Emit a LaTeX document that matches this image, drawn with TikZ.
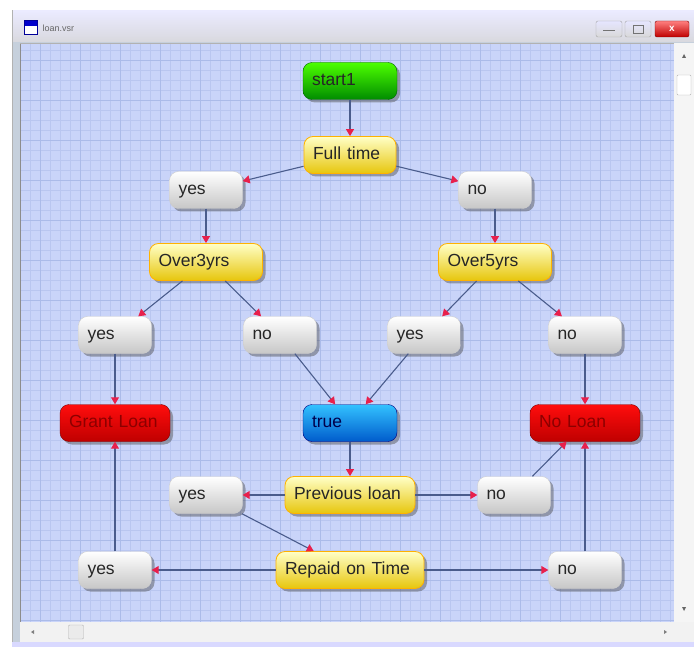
\documentclass[tikz,border=0pt]{standalone}
\usepackage{fontspec}
\setmainfont{Liberation Sans}
\usetikzlibrary{arrows.meta,shadows}
\definecolor{canvas}{HTML}{C9D4F9}
\definecolor{gridminor}{HTML}{B9C6F0}
\definecolor{gridmajor}{HTML}{ABBBE9}
\definecolor{linec}{HTML}{4A5C8C}
\definecolor{arrowc}{HTML}{E8204C}
\definecolor{frame}{HTML}{C6D0DC}
\begin{document}
\begin{tikzpicture}[x=1pt,y=-1pt,
  box/.style={rounded corners=9pt, minimum height=37pt, inner xsep=9pt, inner ysep=0pt, align=left,
    text height=13pt, text depth=4pt,
    font=\fontsize{17.5}{20}\selectfont, text=black!85,
    drop shadow={shadow xshift=3pt, shadow yshift=-3pt, opacity=0.45, fill=black!70}},
  graybox/.style={box, top color=white, bottom color=black!22, draw=black!20, text width=55pt},
  yellowbox/.style={box, top color=yellow!22, bottom color=orange!30!yellow!90!black!95, draw=orange!60!yellow, line width=0.8pt},
  greenbox/.style={box, top color=green!60!lime, bottom color=green!55!black, draw=green!40!black, text width=76pt},
  bluebox/.style={box, top color=cyan!70!blue!80, bottom color=blue!55!cyan!80!black, draw=blue!50!black, text width=76pt, text=blue!30!black},
  redbox/.style={box, top color=red!95, bottom color=red!75!black, draw=red!50!black, text width=92pt, text=red!55!black},
  arr/.style={draw=linec, line width=1.1pt, -{Triangle[length=7pt,width=8pt,color=arrowc]}},
  btn/.style={draw=black!35, rounded corners=2pt, top color=white!90!blue, bottom color=black!15}
]
\useasboundingbox (0,0) rectangle (694,647);
\fill[white] (0,0) rectangle (694,647);
% window frame
\fill[frame] (12,10) rectangle (694,647);
\draw[black!30] (12,647) -- (12,10) -- (694,10);
\shade[top color=white!92!blue, bottom color=blue!8!gray!28] (13,11) rectangle (694,42);
% icon
\fill[white] (24,20) rectangle (37,34);
\fill[blue!80!black] (24,20) rectangle (37,26);
\draw[blue!60!black] (24,20) rectangle (37,34);
\node[anchor=west, font=\fontsize{9}{10}\selectfont, text=black!60] (title) at (39,28) {loan.vsr};
% buttons
\node[btn, minimum width=26pt, minimum height=16pt] (bmin) at (609,29) {};
\draw[black!55, line width=1pt] (603,31) -- (615,31);
\node[btn, minimum width=26pt, minimum height=16pt] (bmax) at (638,29) {};
\draw[black!55] (633,25) rectangle (643,33);
\node[draw=red!50!black, rounded corners=2pt, top color=red!50, bottom color=red!75!black, minimum width=34pt, minimum height=16pt] (bclose) at (672,29) {};
\node[font=\fontsize{10}{10}\selectfont\bfseries, text=white] (bx) at (672,29) {x};
% canvas
\fill[canvas] (20,43) rectangle (674,622);
\foreach \x in {30,40,...,670} \draw[gridminor, line width=0.5pt] (\x,43) -- (\x,622);
\foreach \y in {50,60,...,620} \draw[gridminor, line width=0.5pt] (20,\y) -- (674,\y);
\foreach \x in {40,80,...,670} \draw[gridmajor, line width=0.6pt] (\x,43) -- (\x,622);
\foreach \y in {60,100,...,620} \draw[gridmajor, line width=0.6pt] (20,\y) -- (674,\y);
\draw[black!45, line width=1pt] (20,43) -- (20,622);
\draw[black!30] (20,43) -- (674,43);
% scrollbars
\fill[black!4] (674,43) rectangle (694,622);
\fill[black!5] (20,622) rectangle (694,642);
\fill[blue!15!white] (12,642) rectangle (694,647);
\node[draw=black!30, fill=white, rounded corners=1pt, minimum width=14pt, minimum height=20pt, inner sep=0pt] (vthumb) at (684,85) {};
\node[draw=black!30, fill=black!8, rounded corners=1pt, minimum width=15pt, minimum height=14pt, inner sep=0pt] (hthumb) at (76,632) {};
\fill[black!60] (682,58) -- (686,58) -- (684,54) -- cycle;
\fill[black!60] (682,607) -- (686,607) -- (684,611) -- cycle;
\fill[black!50] (34,630) -- (34,634) -- (31,632) -- cycle;
\fill[black!50] (664,630) -- (664,634) -- (667,632) -- cycle;
% nodes
\node[greenbox] (start) at (350,81) {start1};
\node[yellowbox, text width=74pt] (full) at (350,155) {Full time};
\node[graybox] (y1) at (206,190) {yes};
\node[graybox] (n1) at (495,190) {no};
\node[yellowbox, text width=95pt] (o3) at (206,262) {Over3yrs};
\node[yellowbox, text width=95pt] (o5) at (495,262) {Over5yrs};
\node[graybox] (y2a) at (115,335) {yes};
\node[graybox] (n2b) at (280,335) {no};
\node[graybox] (y2c) at (424,335) {yes};
\node[graybox] (n2d) at (585,335) {no};
\node[redbox] (grant) at (115,423) {Grant Loan};
\node[bluebox] (true) at (350,423) {true};
\node[redbox] (noloan) at (585,423) {No Loan};
\node[yellowbox, text width=112pt] (prev) at (350,495) {Previous loan};
\node[graybox] (y3) at (206,495) {yes};
\node[graybox] (n3) at (514,495) {no};
\node[yellowbox, text width=130pt] (repaid) at (350,570) {Repaid on Time};
\node[graybox] (y4) at (115,570) {yes};
\node[graybox] (n4) at (585,570) {no};
% connectors
\draw[arr] (start) -- (full);
\draw[arr] (full) -- (y1);
\draw[arr] (full) -- (n1);
\draw[arr] (y1) -- (o3);
\draw[arr] (n1) -- (o5);
\draw[arr] (o3) -- (y2a);
\draw[arr] (o3) -- (n2b);
\draw[arr] (o5) -- (y2c);
\draw[arr] (o5) -- (n2d);
\draw[arr] (y2a) -- (grant);
\draw[arr] (n2b) -- (true);
\draw[arr] (y2c) -- (true);
\draw[arr] (n2d) -- (noloan);
\draw[arr] (true) -- (prev);
\draw[arr] (prev) -- (y3);
\draw[arr] (prev) -- (n3);
\draw[arr] (y3) -- (repaid);
\draw[arr] (n3) -- (noloan);
\draw[arr] (repaid) -- (y4);
\draw[arr] (repaid) -- (n4);
\draw[arr] (y4) -- (grant);
\draw[arr] (n4) -- (noloan);
\end{tikzpicture}
\end{document}
